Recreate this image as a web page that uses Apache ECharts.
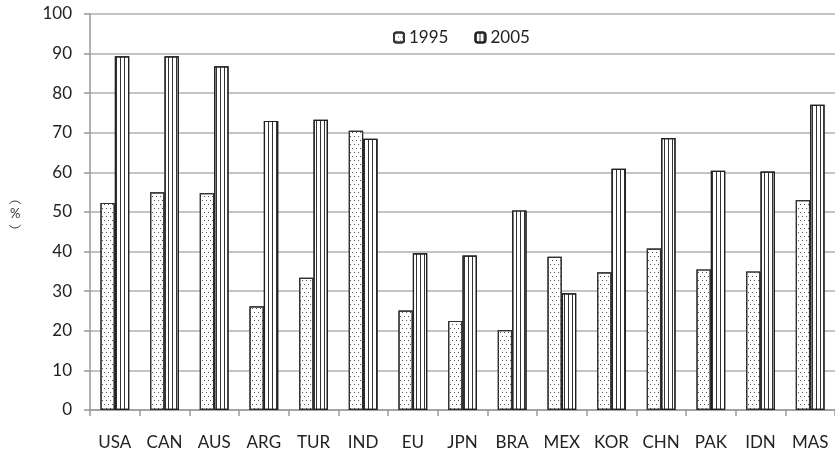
<!DOCTYPE html>
<html><head><meta charset="utf-8">
<script src="https://cdn.jsdelivr.net/npm/echarts@6/dist/echarts.min.js"></script>
<style>html,body{margin:0;padding:0;background:#fff}#c{width:835px;height:454px}</style>
</head><body><div id="c"></div>
<script>
var categories = ['USA','CAN','AUS','ARG','TUR','IND','EU','JPN','BRA','MEX','KOR','CHN','PAK','IDN','MAS'];
var seriesNames = ['1995','2005'];
var values1995 = [52.3,55.0,54.8,26.2,33.4,70.5,25.1,22.5,20.2,38.7,34.8,40.8,35.5,35.0,53.0];
var values2005 = [89.3,89.3,86.8,73.0,73.3,68.5,39.6,39.0,50.4,29.5,60.9,68.7,60.4,60.2,77.1];
var yTicks = [0,10,20,30,40,50,60,70,80,90,100];

var FONT = 'Lato';
var chart = echarts.init(document.getElementById('c'), null, {renderer:'canvas'});
chart.setOption({
  animation:false,
  backgroundColor:'#fff',
  aria:{enabled:false},
  legend:{
    top:24, left:388,
    itemWidth:10, itemHeight:10, itemGap:26,
    textStyle:{fontFamily:FONT,fontSize:17,color:'#222'},
    data:seriesNames
  },
  graphic:[
    {type:'arc', silent:true,
     shape:{cx:15, cy:208, r:7, startAngle:Math.PI*1.2, endAngle:Math.PI*1.8, clockwise:true},
     style:{stroke:'#333', fill:null, lineWidth:1}},
    {type:'text', left:10, top:207,
     style:{text:'%', font:'13px Lato', fill:'#333'}},
    {type:'arc', silent:true,
     shape:{cx:15, cy:221, r:7, startAngle:Math.PI*0.2, endAngle:Math.PI*0.8, clockwise:true},
     style:{stroke:'#333', fill:null, lineWidth:1}}
  ],
  grid:{left:90, top:14, right:-5, bottom:44},
  xAxis:{
    type:'category', data:categories,
    axisLine:{lineStyle:{color:'#999',width:1.5}},
    axisTick:{show:true,length:6,lineStyle:{color:'#999',width:1.5}},
    axisLabel:{fontFamily:FONT,fontSize:17,color:'#222',margin:24,interval:0}
  },
  yAxis:{
    type:'value', min:yTicks[0], max:yTicks[yTicks.length-1], interval:10,
    axisLine:{show:true,lineStyle:{color:'#999',width:1.5}},
    axisTick:{show:true,length:6,inside:false,lineStyle:{color:'#999',width:1.5}},
    splitLine:{lineStyle:{color:'#b0b0b0',width:1.5}},
    axisLabel:{fontFamily:FONT,fontSize:17,color:'#222',margin:18}
  },
  series:[
    {name:seriesNames[0], type:'bar', data:values1995, barWidth:'29%', barGap:'0%',
     itemStyle:{color:'#fff', borderColor:'#333', borderWidth:1.2,
       decal:{symbol:'rect', symbolSize:1, color:'#555', dashArrayX:[[1,3],[0,2,1,1]], dashArrayY:[1,3], rotation:0}}},
    {name:seriesNames[1], type:'bar', data:values2005, barWidth:'29%', barGap:'0%',
     itemStyle:{color:'#fff', borderColor:'#222', borderWidth:1.2,
       decal:{symbol:'rect', symbolSize:1, color:'#333', dashArrayX:[1,2.6], dashArrayY:[4,0], rotation:0}}}
  ]
});
</script></body></html>
